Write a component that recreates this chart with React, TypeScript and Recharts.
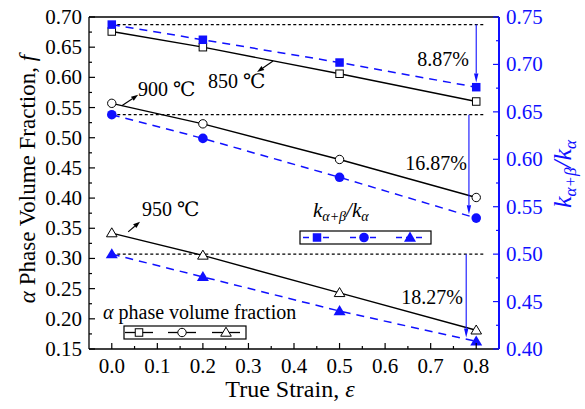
import { ComposedChart, Line, XAxis, YAxis, ReferenceLine } from 'recharts';

// true strain
const strain = [0, 0.2, 0.5, 0.8];
// alpha phase volume fraction f (left axis)
const f850 = [0.676, 0.65, 0.606, 0.56];
const f900 = [0.557, 0.523, 0.464, 0.401];
const f950 = [0.342, 0.305, 0.243, 0.181];
// k(a+b)/k(a) (right axis)
const k850 = [0.742, 0.726, 0.702, 0.676];
const k900 = [0.647, 0.622, 0.581, 0.538];
const k950 = [0.5, 0.476, 0.44, 0.408];

const drops = ['8.87%', '16.87%', '18.27%'];
const temps = ['850 ℃', '900 ℃', '950 ℃'];

const xMajor = [0, 0.1, 0.2, 0.3, 0.4, 0.5, 0.6, 0.7, 0.8];
const xMinor = [0.05, 0.15, 0.25, 0.35, 0.45, 0.55, 0.65, 0.75];
const fMajor = [0.15, 0.2, 0.25, 0.3, 0.35, 0.4, 0.45, 0.5, 0.55, 0.6, 0.65, 0.7];
const fMinor = [0.175, 0.225, 0.275, 0.325, 0.375, 0.425, 0.475, 0.525, 0.575, 0.625, 0.675];
const kMajor = [0.4, 0.45, 0.5, 0.55, 0.6, 0.65, 0.7, 0.75];
const kMinor = [0.425, 0.475, 0.525, 0.575, 0.625, 0.675, 0.725];

const data = strain.map((x, i) => ({
  x,
  f850: f850[i],
  f900: f900[i],
  f950: f950[i],
  k850: k850[i],
  k900: k900[i],
  k950: k950[i],
}));

const BLUE = '#1010ff';
const FONT = 'Liberation Serif, DejaVu Serif, serif';
const W = 585;
const H = 409;

const isMajor = (v: number, list: number[]) => list.some((m) => Math.abs(m - v) < 1e-6);

function LeftTick(props: any) {
  const { x, y, payload } = props;
  const major = isMajor(payload.value, fMajor);
  return (
    <g>
      <line x1={x} x2={x + (major ? 6 : 3)} y1={y} y2={y} stroke="#000" strokeWidth={1.2} />
      {major && (
        <text x={x - 7} y={y + 7} textAnchor="end" fontSize={21} style={{ fontFamily: FONT }} fill="#000">
          {payload.value.toFixed(2)}
        </text>
      )}
    </g>
  );
}

function RightTick(props: any) {
  const { x, y, payload } = props;
  const major = isMajor(payload.value, kMajor);
  return (
    <g>
      <line x1={x} x2={x - (major ? 6 : 3)} y1={y} y2={y} stroke={BLUE} strokeWidth={1.2} />
      {major && (
        <text x={x + 7} y={y + 7} textAnchor="start" fontSize={21} style={{ fontFamily: FONT }} fill={BLUE}>
          {payload.value.toFixed(2)}
        </text>
      )}
    </g>
  );
}

function BottomTick(props: any) {
  const { x, y, payload } = props;
  const major = isMajor(payload.value, xMajor);
  return (
    <g>
      <line x1={x} x2={x} y1={y} y2={y - (major ? 6 : 3)} stroke="#000" strokeWidth={1.2} />
      {major && (
        <text x={x} y={y + 24} textAnchor="middle" fontSize={21} style={{ fontFamily: FONT }} fill="#000">
          {payload.value.toFixed(1)}
        </text>
      )}
    </g>
  );
}

function Sym({ cx, cy, kind, filled, color }: any) {
  const fill = filled ? color : '#fff';
  const sw = filled ? 0 : 1;
  if (kind === 'square') {
    const s = filled ? 8.5 : 7.5;
    return <rect x={cx - s / 2} y={cy - s / 2} width={s} height={s} fill={fill} stroke={color} strokeWidth={sw} />;
  }
  if (kind === 'circle') {
    return <circle cx={cx} cy={cy} r={filled ? 4.8 : 4.2} fill={fill} stroke={color} strokeWidth={sw} />;
  }
  const r = filled ? 6 : 5.3;
  return (
    <polygon
      points={`${cx},${cy - r} ${cx + r},${cy + r * 0.7} ${cx - r},${cy + r * 0.7}`}
      fill={fill}
      stroke={color}
      strokeWidth={sw}
    />
  );
}

const dotFn = (kind: string, filled: boolean, color: string) => (p: any) => (
  <Sym key={`${kind}-${filled}-${p.index}`} cx={p.cx} cy={p.cy} kind={kind} filled={filled} color={color} />
);

function arrowShape(color: string, head: number, width: number) {
  return (p: any) => {
    const { x1, y1, x2, y2 } = p;
    const dx = x2 - x1;
    const dy = y2 - y1;
    const len = Math.sqrt(dx * dx + dy * dy) || 1;
    const ux = dx / len;
    const uy = dy / len;
    const bx = x2 - ux * head;
    const by = y2 - uy * head;
    const px = -uy * width;
    const py = ux * width;
    return (
      <g>
        <line x1={x1} y1={y1} x2={bx} y2={by} stroke={color} strokeWidth={1.1} />
        <polygon points={`${x2},${y2} ${bx + px},${by + py} ${bx - px},${by - py}`} fill={color} />
      </g>
    );
  };
}

function LegendRow({ x, y, kind, filled, color, dashed }: any) {
  return (
    <g>
      <line
        x1={x - 14}
        x2={x + 14}
        y1={y}
        y2={y}
        stroke={color}
        strokeWidth={1.3}
        strokeDasharray={dashed ? '6 4' : undefined}
      />
      <Sym cx={x} cy={y} kind={kind} filled={filled} color={color} />
    </g>
  );
}

export default function App() {
  return (
    <div
      style={{ position: 'absolute', left: 0, top: 0, width: W, height: H, background: '#fff', fontFamily: FONT }}
    >
      <ComposedChart width={W} height={H} data={data} margin={{ top: 17, right: 26, bottom: 20, left: 29 }}>
        <XAxis
          dataKey="x"
          type="number"
          domain={[-0.05, 0.85]}
          allowDataOverflow
          ticks={[...xMajor, ...xMinor].sort((a, b) => a - b)}
          interval={0}
          tick={<BottomTick />}
          tickLine={false}
          tickSize={0}
          tickMargin={0}
          height={40}
          axisLine={{ stroke: '#000', strokeWidth: 1.3 }}
        />
        <YAxis
          yAxisId="left"
          type="number"
          domain={[0.15, 0.7]}
          allowDataOverflow
          ticks={[...fMajor, ...fMinor].sort((a, b) => a - b)}
          interval={0}
          tick={<LeftTick />}
          tickLine={false}
          tickSize={0}
          tickMargin={0}
          width={60}
          axisLine={{ stroke: '#000', strokeWidth: 1.3 }}
        />
        <YAxis
          yAxisId="right"
          orientation="right"
          type="number"
          domain={[0.4, 0.75]}
          allowDataOverflow
          ticks={[...kMajor, ...kMinor].sort((a, b) => a - b)}
          interval={0}
          tick={<RightTick />}
          tickLine={false}
          tickSize={0}
          tickMargin={0}
          width={60}
          axisLine={{ stroke: BLUE, strokeWidth: 2 }}
        />
        <ReferenceLine yAxisId="left" y={0.7} stroke="#000" strokeWidth={1.3} />

        {[k850[0], k900[0], k950[0]].map((v, i) => (
          <ReferenceLine
            key={`h${i}`}
            yAxisId="right"
            segment={[
              { x: strain[0], y: v },
              { x: 0.82, y: v },
            ]}
            stroke="#000"
            strokeWidth={1.3}
            strokeDasharray="3 2.5"
          />
        ))}

        <Line yAxisId="left" dataKey="f850" stroke="#000" strokeWidth={1.4} dot={dotFn('square', false, '#000')} isAnimationActive={false} />
        <Line yAxisId="left" dataKey="f900" stroke="#000" strokeWidth={1.4} dot={dotFn('circle', false, '#000')} isAnimationActive={false} />
        <Line yAxisId="left" dataKey="f950" stroke="#000" strokeWidth={1.4} dot={dotFn('triangle', false, '#000')} isAnimationActive={false} />
        <Line yAxisId="right" dataKey="k850" stroke={BLUE} strokeWidth={1.5} strokeDasharray="8 6" dot={dotFn('square', true, BLUE)} isAnimationActive={false} />
        <Line yAxisId="right" dataKey="k900" stroke={BLUE} strokeWidth={1.5} strokeDasharray="8 6" dot={dotFn('circle', true, BLUE)} isAnimationActive={false} />
        <Line yAxisId="right" dataKey="k950" stroke={BLUE} strokeWidth={1.5} strokeDasharray="8 6" dot={dotFn('triangle', true, BLUE)} isAnimationActive={false} />

        {/* drop arrows */}
        <ReferenceLine yAxisId="right" segment={[{ x: 0.8, y: k850[0] }, { x: 0.8, y: 0.681 }]} shape={arrowShape(BLUE, 9, 2.2)} />
        <ReferenceLine yAxisId="right" segment={[{ x: 0.784, y: k900[0] }, { x: 0.784, y: 0.542 }]} shape={arrowShape(BLUE, 9, 2.2)} />
        <ReferenceLine yAxisId="right" segment={[{ x: 0.778, y: k950[0] }, { x: 0.778, y: 0.412 }]} shape={arrowShape(BLUE, 9, 2.2)} />

        {/* temperature pointers */}
        <ReferenceLine yAxisId="left" segment={[{ x: 0.354, y: 0.627 }, { x: 0.319, y: 0.609 }]} shape={arrowShape('#000', 7, 2.5)} />
        <ReferenceLine yAxisId="left" segment={[{ x: 0.022, y: 0.553 }, { x: 0.058, y: 0.571 }]} shape={arrowShape('#000', 7, 2.5)} />
        <ReferenceLine yAxisId="left" segment={[{ x: 0.036, y: 0.344 }, { x: 0.062, y: 0.361 }]} shape={arrowShape('#000', 7, 2.5)} />
      </ComposedChart>

      <svg
        width={W}
        height={H}
        style={{ position: 'absolute', left: 0, top: 0, pointerEvents: 'none', fontFamily: FONT }}
      >
        {/* axis titles */}
        <text transform="translate(35,179) rotate(-90)" textAnchor="middle" fontSize={23} fill="#000">
          <tspan fontStyle="italic">α</tspan> Phase Volume Fraction, <tspan fontStyle="italic">f</tspan>
        </text>
        <text transform="translate(571,174) rotate(-90)" textAnchor="middle" fontSize={26} fill={BLUE} fontStyle="italic">
          k<tspan fontSize={17} dy={5}>α+β</tspan>
          <tspan dy={-5}>/k</tspan>
          <tspan fontSize={17} dy={5}>α</tspan>
        </text>
        <text x={290} y={397} textAnchor="middle" fontSize={24} fill="#000">
          True Strain, <tspan fontStyle="italic">ε</tspan>
        </text>

        {/* drop percentages */}
        <text x={443} y={66} textAnchor="middle" fontSize={20} fill="#000">{drops[0]}</text>
        <text x={436} y={170} textAnchor="middle" fontSize={20} fill="#000">{drops[1]}</text>
        <text x={432} y={304} textAnchor="middle" fontSize={20} fill="#000">{drops[2]}</text>

        {/* temperatures */}
        <text x={208} y={88} fontSize={20} fill="#000">{temps[0]}</text>
        <text x={138} y={96} fontSize={20} fill="#000">{temps[1]}</text>
        <text x={142} y={216} fontSize={20} fill="#000">{temps[2]}</text>

        {/* k legend */}
        <text x={313} y={217} fontSize={21} fontStyle="italic" fill="#000">
          k<tspan fontSize={14} dy={4}>α+β</tspan>
          <tspan dy={-4}>/k</tspan>
          <tspan fontSize={14} dy={4}>α</tspan>
        </text>
        <rect x={300} y={231} width={131} height={13} fill="#fff" stroke="#000" strokeWidth={1.2} />
        <LegendRow x={317} y={237.5} kind="square" filled color={BLUE} dashed />
        <LegendRow x={364} y={237.5} kind="circle" filled color={BLUE} dashed />
        <LegendRow x={410} y={237.5} kind="triangle" filled color={BLUE} dashed />

        {/* f legend */}
        <text x={103} y={319} fontSize={20} fill="#000">
          <tspan fontStyle="italic">α</tspan> phase volume fraction
        </text>
        <rect x={124} y={326} width={122} height={13} fill="#fff" stroke="#000" strokeWidth={1.2} />
        <LegendRow x={139} y={332.5} kind="square" filled={false} color="#000" />
        <LegendRow x={182} y={332.5} kind="circle" filled={false} color="#000" />
        <LegendRow x={226} y={332.5} kind="triangle" filled={false} color="#000" />
      </svg>
    </div>
  );
}
